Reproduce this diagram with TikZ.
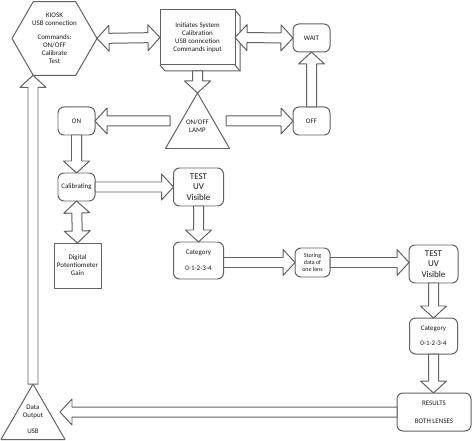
\documentclass[tikz,border=0pt]{standalone}
\usepackage{fontspec}
\setmainfont{Carlito}
\usetikzlibrary{calc,shapes.geometric}
\definecolor{edge}{HTML}{626262}
\definecolor{ink}{HTML}{1A1A1A}
\tikzset{
  base/.style={draw=edge, line width=1pt, line join=round},
  blk/.style={base, fill=white},
  sbox/.style={base, fill=white, minimum width=37bp, minimum height=28bp, inner sep=1pt, outer sep=0pt,
    align=center, text=ink, font=\fontsize{7}{8}\selectfont},
  rbox/.style={sbox, rounded corners=6bp},
  big/.style={font=\fontsize{9}{10.5}\selectfont},
  lab/.style={text=ink, align=center, font=\fontsize{7}{8}\selectfont},
  tri/.style={base, regular polygon, regular polygon sides=3, minimum size=74bp, inner sep=0pt, outer sep=0pt},
}
\def\sw{5bp}
\def\hw{13bp}
\def\hl{12bp}
% hollow block arrow, tip at #2
\newcommand{\fatarrow}[2]{%
  \coordinate (fa-s) at (#1);
  \coordinate (fa-e) at (#2);
  \coordinate (fa-b) at ($(fa-e)!\hl!(fa-s)$);
  \draw[blk] ($(fa-s)!\sw!90:(fa-e)$) -- ($(fa-b)!\sw!90:(fa-e)$)
    -- ($(fa-b)!\hw!90:(fa-e)$) -- (fa-e)
    -- ($(fa-b)!\hw!-90:(fa-e)$) -- ($(fa-b)!\sw!-90:(fa-e)$)
    -- ($(fa-s)!\sw!-90:(fa-e)$) -- cycle;}
% hollow block arrow, tips at both ends
\newcommand{\fatboth}[2]{%
  \coordinate (fa-s) at (#1);
  \coordinate (fa-e) at (#2);
  \coordinate (fa-a) at ($(fa-s)!\hl!(fa-e)$);
  \coordinate (fa-b) at ($(fa-e)!\hl!(fa-s)$);
  \draw[blk] (fa-s) -- ($(fa-a)!\hw!90:(fa-e)$) -- ($(fa-a)!\sw!90:(fa-e)$)
    -- ($(fa-b)!\sw!90:(fa-e)$) -- ($(fa-b)!\hw!90:(fa-e)$) -- (fa-e)
    -- ($(fa-b)!\hw!-90:(fa-e)$) -- ($(fa-b)!\sw!-90:(fa-e)$)
    -- ($(fa-a)!\sw!-90:(fa-e)$) -- ($(fa-a)!\hw!-90:(fa-e)$) -- cycle;}

\begin{document}
\begin{tikzpicture}[x=1bp, y=-1bp]
  \useasboundingbox (0,0) rectangle (474,441);

  % top row
  \node[base, regular polygon, regular polygon sides=6, minimum size=85bp, inner sep=0pt, outer sep=0pt,
    align=center, text=ink, font=\fontsize{7}{8}\selectfont] (kiosk) at (54.5,38.5)
    {KIOSK\\USB connection\\[6bp]Commands:\\ON/OFF\\Calibrate\\Test};
  \node[sbox, minimum width=75bp, minimum height=55bp] (init) at (197.5,37.5)
    {Initiates System\\Calibration\\USB conncetion\\Commands input};
  \draw[base] (init.north east) -- ++(5,6) -- ++(0,55) -- ++(-75,0) -- (init.south west);
  \draw[base] (init.south east) -- ++(5,6);
  \node[rbox] (wait) at (311.5,38) {WAIT};
  \node[rbox] (off) at (311.5,121) {OFF};
  \node[tri, label={[lab, yshift=4bp]center:ON/OFF\\LAMP}] (lamp) at (197.5,130) {};
  \node[rbox] (on) at (76.5,121) {ON};

  % middle
  \node[rbox] (cal) at (76.5,187) {Calibrating};
  \node[sbox, minimum width=47bp, minimum height=45bp] (dig) at (77.5,265.5)
    {Digital\\Potentiometer\\Gain};
  \node[rbox, big, minimum width=50bp, minimum height=38bp] (test1) at (198.5,187) {TEST\\UV\\Visible};
  \node[rbox, minimum width=50bp, minimum height=37bp] (cat1) at (198.5,260.5) {Category\\[8bp]0-1-2-3-4};
  \node[rbox, minimum width=35bp, minimum height=29bp, font=\fontsize{6}{6.8}\selectfont] (store) at (312.5,262.5)
    {Storing\\data of\\one lens};
  \node[rbox, big, minimum width=49bp, minimum height=38bp] (test2) at (433.5,264) {TEST\\UV\\Visible};
  \node[rbox, minimum width=48bp, minimum height=36bp] (cat2) at (433.5,336) {Category\\[7bp]0-1-2-3-4};

  % bottom
  \node[rbox, minimum width=74bp, minimum height=38bp] (res) at (434,412) {RESULTS\\[10bp]BOTH LENSES};
  \node[tri, label={[lab, yshift=2bp]center:Data\\Output\\[8bp]USB}] (dout) at (33,421) {};

  \coordinate (init-foot) at ($(init.south)+(0,6)$);
  \coordinate (lamp-w) at (170,121);
  \coordinate (lamp-e) at (226,121);
  \coordinate (dout-e) at (60,412);

  % block arrows
  \fatboth{kiosk.east}{init.west}
  \fatboth{init.east}{wait.west}
  \fatarrow{init-foot}{lamp.corner 1}
  \fatarrow{lamp-w}{on.east}
  \fatarrow{lamp-e}{off.west}
  \fatarrow{off.north}{wait.south}
  \fatarrow{on.south}{cal.north}
  \fatboth{cal.south}{dig.north}
  \fatarrow{cal.east}{test1.west}
  \fatarrow{test1.south}{cat1.north}
  \fatarrow{cat1.east |- store.west}{store.west}
  \fatarrow{store.east}{test2.west |- store.east}
  \fatarrow{test2.south}{cat2.north}
  \fatarrow{cat2.south}{cat2.south |- res.north}
  \fatarrow{res.west}{dout-e}
  \fatarrow{dout.corner 1}{dout.corner 1 |- kiosk.240}
\end{tikzpicture}
\end{document}
